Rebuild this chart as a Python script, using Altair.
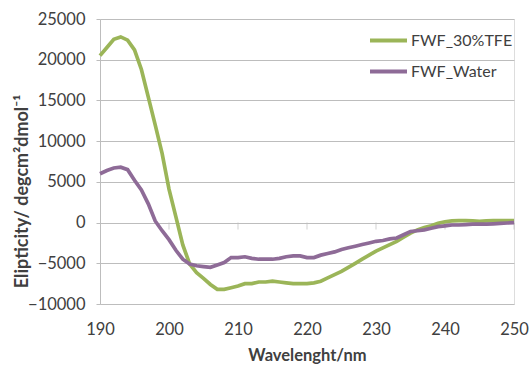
import altair as alt
import pandas as pd

wavelength = list(range(190, 251))

tfe = [20500, 21500, 22500, 22800, 22400, 21200, 18800, 15400, 12000, 8500,
       4100, 700, -2750, -5100, -6150, -6850, -7600, -8200, -8200, -8000,
       -7800, -7500, -7500, -7300, -7300, -7200, -7300, -7400, -7500, -7500,
       -7500, -7400, -7200, -6800, -6400, -6000, -5500, -5000, -4500, -4000,
       -3500, -3100, -2700, -2300, -1800, -1300, -900, -600, -400, -100,
       100, 200, 250, 250, 200, 150, 200, 250, 250, 250, 250]

water = [6000, 6400, 6700, 6800, 6500, 5200, 4000, 2300, 200, -1000,
         -2100, -3400, -4500, -5100, -5300, -5400, -5500, -5200, -4900, -4300,
         -4300, -4200, -4400, -4500, -4500, -4500, -4400, -4200, -4100, -4100,
         -4300, -4300, -4000, -3800, -3600, -3300, -3100, -2900, -2700, -2500,
         -2300, -2200, -2000, -1900, -1500, -1100, -1000, -900, -700, -500,
         -400, -300, -300, -250, -200, -200, -200, -150, -100, -50, 0]

series_names = ["FWF_30%TFE", "FWF_Water"]
series_colors = ["#9BB558", "#8E6B97"]
x_ticks = [190, 200, 210, 220, 230, 240, 250]
y_ticks = [-10000, -5000, 0, 5000, 10000, 15000, 20000, 25000]

df = pd.concat([
    pd.DataFrame({"wl": wavelength, "val": tfe, "series": series_names[0]}),
    pd.DataFrame({"wl": wavelength, "val": water, "series": series_names[1]}),
])
ticks_df = pd.DataFrame({"wl": x_ticks[1:]})

FONT = "Lato"
GRID = "#BDBDBD"
TXT = "#404040"

x_scale = alt.Scale(domain=[190, 250], nice=False, zero=False)
y_scale = alt.Scale(domain=[-10000, 25000], nice=False)

lines = alt.Chart(df).mark_line(strokeWidth=3.7).encode(
    x=alt.X("wl:Q", scale=x_scale,
            axis=alt.Axis(values=x_ticks, format="d", title="Wavelenght/nm",
                          grid=False, domain=False, ticks=False, labelPadding=17,
                          labelFlush=False,
                          labelFontSize=16.5, labelColor=TXT, labelFont=FONT,
                          titleFont=FONT, titleFontSize=16.5, titleFontWeight="bold",
                          titleColor=TXT, titleY=51, titleBaseline="middle")),
    y=alt.Y("val:Q", scale=y_scale,
            axis=alt.Axis(values=y_ticks, format="d",
                          title="Elipticity/ degcm²dmol⁻¹",
                          grid=True, gridColor=GRID, gridWidth=1,
                          domain=True, domainColor=GRID, tickColor=GRID, tickSize=4,
                          labelPadding=11, labelFontSize=16.5, labelColor=TXT,
                          labelFont=FONT, titleFont=FONT, titleFontSize=18,
                          titleFontWeight="bold", titleColor=TXT,
                          titleAngle=270, titleX=-78, titleY=172,
                          titleAlign="center", titleBaseline="middle")),
    color=alt.Color("series:N",
                    scale=alt.Scale(domain=series_names, range=series_colors),
                    legend=alt.Legend(title=None, orient="none", legendX=268,
                                      legendY=1, symbolType="stroke",
                                      symbolStrokeWidth=4, symbolSize=1369,
                                      rowPadding=2, labelFontSize=16,
                                      labelFont=FONT, labelColor=TXT,
                                      labelOffset=2)),
)

zero_ticks = alt.Chart(ticks_df).mark_tick(
    orient="vertical", size=7, thickness=1, color=GRID, yOffset=3.5
).encode(x=alt.X("wl:Q", scale=x_scale), y=alt.datum(0))

chart = alt.layer(zero_ticks, lines).properties(
    width=414, height=285,
    autosize=alt.AutoSizeParams(type="none"),
    padding={"left": 100, "top": 19, "right": 17, "bottom": 62},
).configure_view(stroke=None).configure(background="white")

chart.save("out.html", embed_options={"renderer": "svg", "actions": False})
